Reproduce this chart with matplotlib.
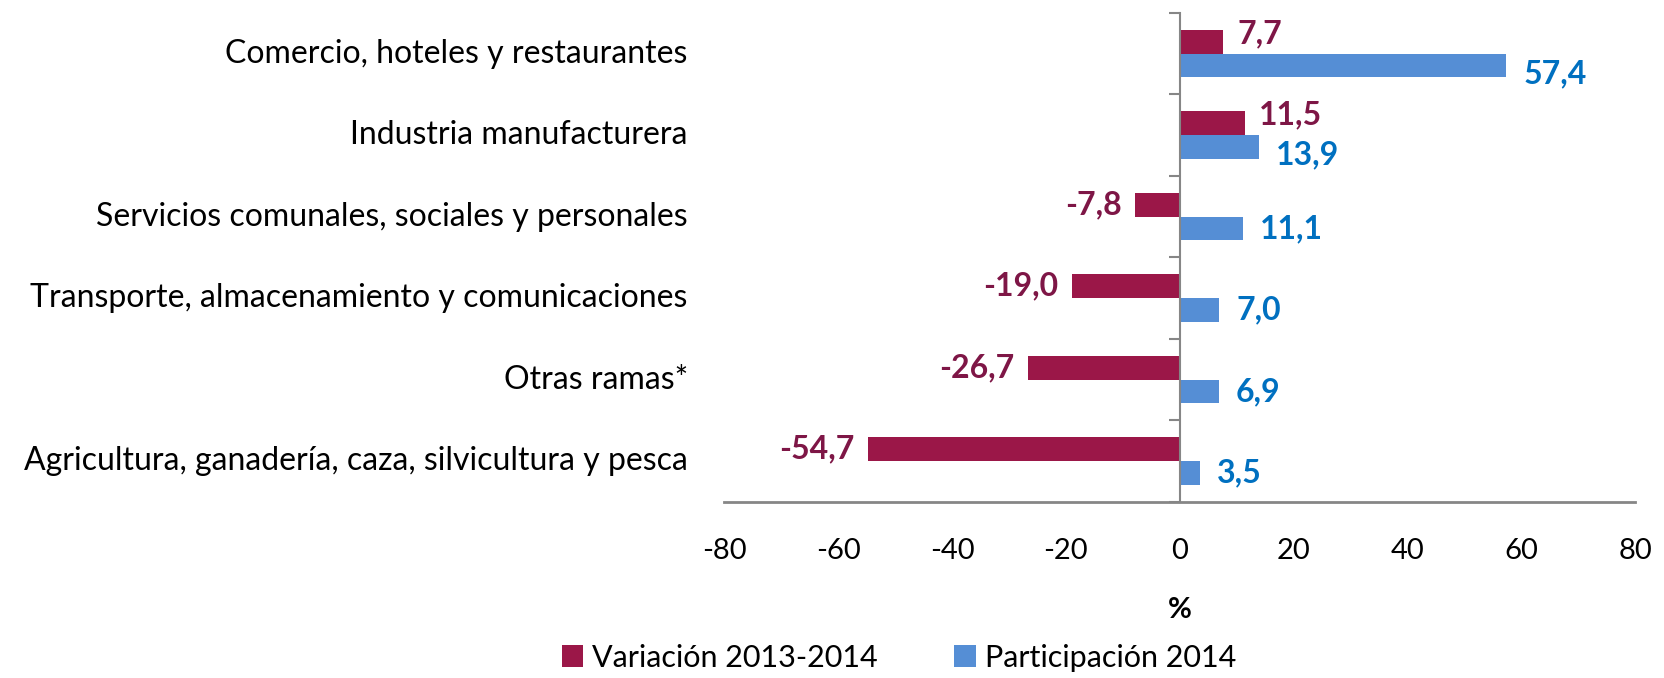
import matplotlib.pyplot as plt
import matplotlib.transforms as mtransforms
import numpy as np

plt.rcParams['font.family'] = ['Lato', 'DejaVu Sans']
plt.rcParams['axes.unicode_minus'] = False

# data, top row first
sectores = ['Comercio, hoteles y restaurantes',
            'Industria manufacturera',
            'Servicios comunales, sociales y personales',
            'Transporte, almacenamiento y comunicaciones',
            'Otras ramas*',
            'Agricultura, ganadería, caza, silvicultura y pesca']
variacion = [7.7, 11.5, -7.8, -19.0, -26.7, -54.7]
participacion = [57.4, 13.9, 11.1, 7.0, 6.9, 3.5]
serie_var = 'Variación 2013-2014'
serie_part = 'Participación 2014'
xticks = [-80, -60, -40, -20, 0, 20, 40, 60, 80]

c_var, c_var_txt = '#9B1748', '#7E1646'
c_part, c_part_txt = '#558ED5', '#0070C0'
gris = '#868686'

fig = plt.figure(figsize=(16.65, 6.78), dpi=100)
ax = fig.add_axes([0.435, 0.26, 0.547, 0.721])

y = np.arange(len(sectores))
h = 0.29
ax.barh(y - h / 2, variacion, height=h, color=c_var, label=serie_var)
ax.barh(y + h / 2, participacion, height=h, color=c_part, label=serie_part)

ax.set_xlim(-80, 80)
ax.set_ylim(len(sectores) - 0.5, -0.5)

# value labels
off = 2.4
for i, (v, p) in enumerate(zip(variacion, participacion)):
    dy = 0.1 if (v > 0 and p > 0) else 0.0
    ax.text(v + (off if v >= 0 else -off), i - h / 2 - dy, f'{v:.1f}'.replace('.', ','),
            ha='left' if v >= 0 else 'right', va='center', fontsize=23,
            fontweight='bold', color=c_var_txt)
    ax.text(p + off + 0.6, i + h / 2 + dy, f'{p:.1f}'.replace('.', ','),
            ha='left', va='center', fontsize=23, fontweight='bold', color=c_part_txt)

# category labels at the left edge of the plot
trans = mtransforms.blended_transform_factory(ax.transAxes, ax.transData)
for i, s in enumerate(sectores):
    ax.text(-0.04, i, s, transform=trans, ha='right', va='center', fontsize=23)

# axes styling
for sp in ['top', 'right']:
    ax.spines[sp].set_visible(False)
ax.spines['left'].set_position(('data', 0))
ax.spines['left'].set_color(gris)
ax.spines['left'].set_linewidth(1.5)
ax.spines['bottom'].set_color(gris)
ax.spines['bottom'].set_linewidth(2)
ax.set_yticks(np.arange(len(sectores) + 1) - 0.5)
ax.set_yticklabels([])
ax.tick_params(axis='y', direction='out', length=8, width=1.5, color=gris)
ax.set_xticks(xticks)
ax.tick_params(axis='x', length=0, pad=26, labelsize=21)
ax.set_xlabel('%', fontsize=21, fontweight='bold', labelpad=24)

fig.legend(*ax.get_legend_handles_labels(), loc='center', bbox_to_anchor=(0.54, 0.03),
           ncol=2, frameon=False, fontsize=22, handlelength=0.7, handleheight=0.7,
           columnspacing=2.5, handletextpad=0.3, borderpad=0)

plt.savefig('out.png', dpi=100)
